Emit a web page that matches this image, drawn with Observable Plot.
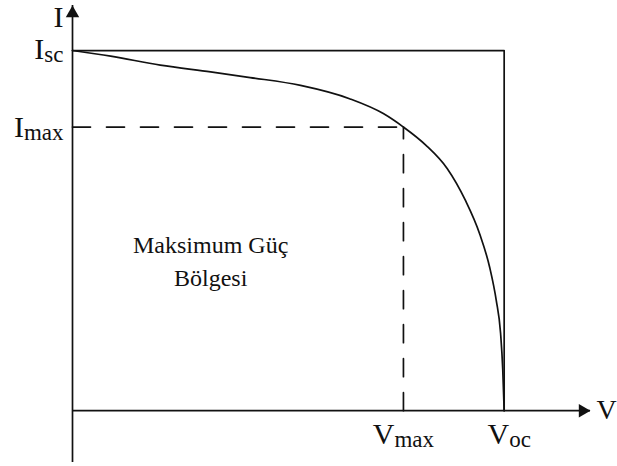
<!DOCTYPE html>
<html>
<head>
<meta charset="utf-8">
<script src="https://cdn.jsdelivr.net/npm/d3@7"></script>
<script src="https://cdn.jsdelivr.net/npm/@observablehq/plot@0.6"></script>
<style>
  body { margin: 0; background: #fff; }
</style>
</head>
<body>
<div id="chart"></div>
<script>
// I–V characteristic of a solar cell (arbitrary units)
const Voc = 0.6, Vmax = 0.46;
const Isc = 3.2, Imax = 2.52;

const voltage = [0, 0.053, 0.122, 0.192, 0.247, 0.317, 0.386, 0.432, Vmax, 0.491, 0.521, 0.546, 0.566, 0.580, 0.589, 0.595, 0.598, Voc];
const current = [Isc, 3.15, 3.07, 3.01, 2.96, 2.89, 2.77, 2.64, Imax, 2.36, 2.15, 1.87, 1.57, 1.27, 0.98, 0.69, 0.37, 0];

// axis extents (arrow tips)
const vAxisEnd = 0.72;
const iAxisStart = -0.46, iAxisEnd = 3.6;

// labels ("_" marks the start of a subscript)
const iscLabel = "I_sc", imaxLabel = "I_max";
const voltageTicks = ["V_max", "V_oc"];
const voltageTickValues = [Vmax, Voc];
const regionLabel = "Maksimum Güç\nBölgesi";
const regionV = 0.192, regionI = 1.112;

const ink = "#111";
const serif = "Liberation Serif";
const fontSize = 30, subSize = 23, regionSize = 24;
const lineWidth = 1.7;

const ivTable = voltage.map((v, k) => ({v, i: current[k]}));

const chart = Plot.plot({
  width: 617,
  height: 466,
  marginLeft: 72,
  marginRight: 27,
  marginTop: 5,
  marginBottom: 4,
  x: {domain: [0, vAxisEnd], axis: null},
  y: {domain: [iAxisStart, iAxisEnd], axis: null},
  style: {fontFamily: serif, background: "#fff", color: ink},
  marks: [
    // axes with arrowheads
    Plot.ruleX([0], {x: 0, y1: iAxisStart, y2: iAxisEnd, stroke: ink, strokeWidth: lineWidth}),
    Plot.ruleY([0], {y: 0, x1: 0, x2: vAxisEnd, stroke: ink, strokeWidth: lineWidth}),
    Plot.dot([0], {x: 0, y: iAxisEnd, symbol: "triangle", r: 5, fill: ink, stroke: null, dy: 7.8}),
    Plot.dot([0], {x: vAxisEnd, y: 0, symbol: "triangle", r: 5, fill: ink, stroke: null, rotate: 90, dx: -7.8}),

    // Isc / Voc bounding lines
    Plot.line([[0, Isc], [Voc, Isc], [Voc, 0]], {stroke: ink, strokeWidth: lineWidth}),

    // maximum power point guides
    Plot.line([[0, Imax], [Vmax, Imax]], {stroke: ink, strokeWidth: lineWidth, strokeDasharray: "18,16"}),
    Plot.line([[Vmax, 0], [Vmax, Imax]], {stroke: ink, strokeWidth: lineWidth, strokeDasharray: "18,16"}),

    // I–V curve
    Plot.line(ivTable, {x: "v", y: "i", curve: "monotone-x", stroke: ink, strokeWidth: lineWidth}),

    // axis titles
    Plot.text(["I"], {x: 0, y: iAxisEnd, text: d => d, textAnchor: "middle", lineAnchor: "bottom", dx: -14, dy: 21, fontSize, fontFamily: serif, fill: ink}),
    Plot.text(["V"], {x: vAxisEnd, y: 0, text: d => d, textAnchor: "start", lineAnchor: "bottom", dx: 6, dy: 8, fontSize: 28, fontFamily: serif, fill: ink}),

    // level labels
    Plot.text([iscLabel], {x: 0, y: Isc, text: d => d, textAnchor: "end", lineAnchor: "bottom", dx: -9, dy: 8, fontSize, fontFamily: serif, fill: ink}),
    Plot.text([imaxLabel], {x: 0, y: Imax, text: d => d, textAnchor: "end", lineAnchor: "bottom", dx: -9, dy: 10, fontSize, fontFamily: serif, fill: ink}),
    Plot.text(voltageTicks, {x: voltageTickValues, y: 0, text: d => d, textAnchor: "middle", lineAnchor: "bottom", dy: 33, fontSize, fontFamily: serif, fill: ink}),

    // region label
    Plot.text([regionLabel], {x: regionV, y: regionI, text: d => d, textAnchor: "middle", lineAnchor: "bottom", lineHeight: 1.375, fontSize: regionSize, fontFamily: serif, fill: ink})
  ]
});

// turn "X_sub" labels into a letter with a subscript
d3.select(chart).selectAll("text").each(function() {
  const t = this.textContent;
  const k = t.indexOf("_");
  if (k < 0) return;
  const sel = d3.select(this);
  sel.text(t.slice(0, k));
  sel.append("tspan").attr("font-size", subSize).attr("dy", 3).text(t.slice(k + 1));
});

// the Voc label sits a little right of its line
d3.select(chart).selectAll("text").filter(function() { return this.textContent === "Voc"; }).attr("dx", 5);

document.getElementById("chart").appendChild(chart);
</script>
</body>
</html>
